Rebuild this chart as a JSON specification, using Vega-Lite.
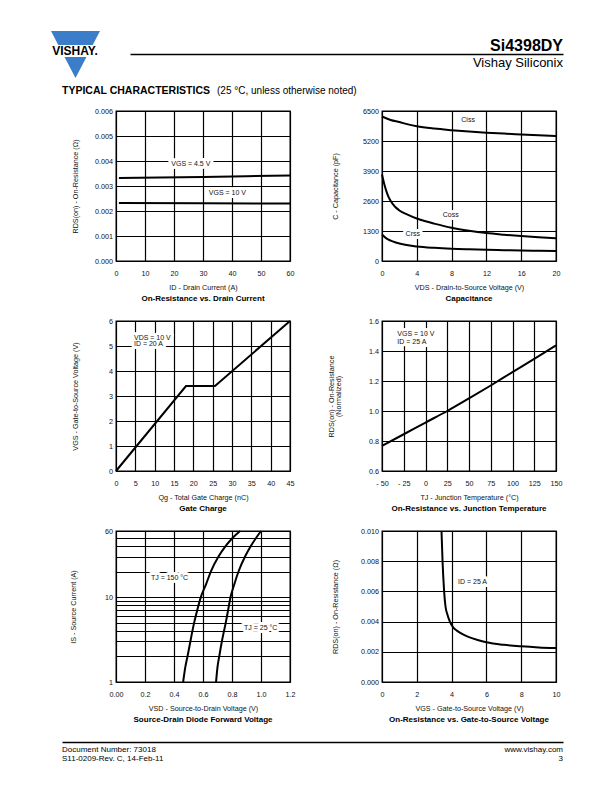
{
  "$schema": "https://vega.github.io/schema/vega-lite/v6.json",
  "background": "white",
  "padding": {"left": 51, "top": 31, "right": 0, "bottom": 0},
  "autosize": {"type": "pad"},
  "spacing": 9,
  "datasets": {
    "hdr": [{"k": 0}],
    "c1": [
      {"s": "a", "x": 1, "y": 0.00332}, {"s": "a", "x": 15, "y": 0.00334}, {"s": "a", "x": 30, "y": 0.00336}, {"s": "a", "x": 45, "y": 0.00339}, {"s": "a", "x": 60, "y": 0.00342},
      {"s": "b", "x": 1, "y": 0.00232}, {"s": "b", "x": 30, "y": 0.00231}, {"s": "b", "x": 60, "y": 0.0023}
    ],
    "c1l": [{"x": 25.8, "y": 0.00389, "t": "VGS = 4.5 V"}, {"x": 38.4, "y": 0.00272, "t": "VGS = 10 V"}],
    "c2": [
      {"s": "iss", "x": 0, "y": 6260}, {"s": "iss", "x": 1, "y": 6110}, {"s": "iss", "x": 2, "y": 6020}, {"s": "iss", "x": 3, "y": 5920}, {"s": "iss", "x": 4, "y": 5840}, {"s": "iss", "x": 6, "y": 5740}, {"s": "iss", "x": 8, "y": 5670}, {"s": "iss", "x": 10, "y": 5610}, {"s": "iss", "x": 12, "y": 5560}, {"s": "iss", "x": 14, "y": 5520}, {"s": "iss", "x": 16, "y": 5485}, {"s": "iss", "x": 18, "y": 5450}, {"s": "iss", "x": 20, "y": 5410},
      {"s": "oss", "x": 0, "y": 3750}, {"s": "oss", "x": 0.25, "y": 3350}, {"s": "oss", "x": 0.5, "y": 3030}, {"s": "oss", "x": 0.75, "y": 2780}, {"s": "oss", "x": 1, "y": 2600}, {"s": "oss", "x": 1.5, "y": 2350}, {"s": "oss", "x": 2, "y": 2190}, {"s": "oss", "x": 3, "y": 2000}, {"s": "oss", "x": 4, "y": 1840}, {"s": "oss", "x": 5, "y": 1720}, {"s": "oss", "x": 6, "y": 1620}, {"s": "oss", "x": 8, "y": 1440}, {"s": "oss", "x": 10, "y": 1310}, {"s": "oss", "x": 12, "y": 1210}, {"s": "oss", "x": 14, "y": 1140}, {"s": "oss", "x": 16, "y": 1080}, {"s": "oss", "x": 18, "y": 1030}, {"s": "oss", "x": 20, "y": 990},
      {"s": "rss", "x": 0, "y": 1150}, {"s": "rss", "x": 0.5, "y": 980}, {"s": "rss", "x": 1, "y": 880}, {"s": "rss", "x": 1.5, "y": 810}, {"s": "rss", "x": 2, "y": 760}, {"s": "rss", "x": 3, "y": 680}, {"s": "rss", "x": 4, "y": 630}, {"s": "rss", "x": 6, "y": 570}, {"s": "rss", "x": 8, "y": 530}, {"s": "rss", "x": 10, "y": 505}, {"s": "rss", "x": 12, "y": 485}, {"s": "rss", "x": 14, "y": 470}, {"s": "rss", "x": 16, "y": 455}, {"s": "rss", "x": 18, "y": 445}, {"s": "rss", "x": 20, "y": 435}
    ],
    "c2l": [{"x": 9.9, "y": 6110, "t": "Ciss"}, {"x": 7.9, "y": 1993, "t": "Coss"}, {"x": 3.54, "y": 1170, "t": "Crss"}],
    "c3": [{"x": 0, "y": 0}, {"x": 18.1, "y": 3.4}, {"x": 25.6, "y": 3.4}, {"x": 45, "y": 6}],
    "c3l": [{"x": 4.65, "y": 5.31, "t": "VDS = 10 V"}, {"x": 4.65, "y": 5.07, "t": "ID = 20 A"}],
    "c4": [{"x": -50, "y": 0.768}, {"x": -25, "y": 0.845}, {"x": 0, "y": 0.923}, {"x": 25, "y": 1.0}, {"x": 50, "y": 1.084}, {"x": 75, "y": 1.17}, {"x": 100, "y": 1.259}, {"x": 125, "y": 1.347}, {"x": 150, "y": 1.438}],
    "c4l": [{"x": -32.4, "y": 1.513, "t": "VGS = 10 V"}, {"x": -32.4, "y": 1.46, "t": "ID = 25 A"}],
    "c5": [
      {"s": "150", "x": 0.463, "y": 1}, {"s": "150", "x": 0.478, "y": 1.5}, {"s": "150", "x": 0.493, "y": 2}, {"s": "150", "x": 0.513, "y": 3}, {"s": "150", "x": 0.527, "y": 4}, {"s": "150", "x": 0.539, "y": 5}, {"s": "150", "x": 0.56, "y": 7}, {"s": "150", "x": 0.585, "y": 10}, {"s": "150", "x": 0.62, "y": 14}, {"s": "150", "x": 0.654, "y": 20}, {"s": "150", "x": 0.707, "y": 30}, {"s": "150", "x": 0.757, "y": 40}, {"s": "150", "x": 0.805, "y": 50}, {"s": "150", "x": 0.856, "y": 60},
      {"s": "25", "x": 0.69, "y": 1}, {"s": "25", "x": 0.70, "y": 1.5}, {"s": "25", "x": 0.712, "y": 2}, {"s": "25", "x": 0.73, "y": 3}, {"s": "25", "x": 0.745, "y": 4}, {"s": "25", "x": 0.757, "y": 5}, {"s": "25", "x": 0.773, "y": 7}, {"s": "25", "x": 0.79, "y": 10}, {"s": "25", "x": 0.815, "y": 14}, {"s": "25", "x": 0.845, "y": 20}, {"s": "25", "x": 0.89, "y": 30}, {"s": "25", "x": 0.93, "y": 40}, {"s": "25", "x": 0.967, "y": 50}, {"s": "25", "x": 1.0, "y": 60}
    ],
    "c5l": [{"x": 0.241, "y": 16.7, "t": "TJ = 150 °C"}, {"x": 0.883, "y": 4.34, "t": "TJ = 25 °C"}],
    "c6": [{"x": 3.42, "y": 0.0100}, {"x": 3.45, "y": 0.0090}, {"x": 3.48, "y": 0.0080}, {"x": 3.52, "y": 0.0070}, {"x": 3.57, "y": 0.0060}, {"x": 3.65, "y": 0.0050}, {"x": 3.75, "y": 0.0045}, {"x": 3.9, "y": 0.0040}, {"x": 4.1, "y": 0.0036}, {"x": 4.3, "y": 0.0034}, {"x": 4.6, "y": 0.00318}, {"x": 5, "y": 0.00297}, {"x": 5.5, "y": 0.00278}, {"x": 6, "y": 0.00263}, {"x": 7, "y": 0.00246}, {"x": 8, "y": 0.00236}, {"x": 9, "y": 0.00229}, {"x": 10, "y": 0.00225}],
    "c6l": [{"x": 4.37, "y": 0.00664, "t": "ID = 25 A"}]
  },
  "vconcat": [
    {
      "width": 447, "height": 1,
      "view": {"stroke": null},
      "data": {"name": "hdr"},
      "layer": [
        {"mark": {"type": "point", "opacity": 0}, "encoding": {"x": {"field": "k", "type": "quantitative", "scale": {"domain": [0, 1], "range": [14, 447]}, "axis": {"orient": "bottom", "domain": true, "domainColor": "#000", "domainWidth": 1.6, "ticks": false, "labels": false, "grid": false, "title": null}}}},
        {"mark": {"type": "point", "shape": "M-1,-1L1,-1L0.703,-0.43L-0.703,-0.43Z M-0.448,0.06L0.448,0.06L0,0.92Z", "size": 2401, "filled": true, "fill": "#3b7dc8", "strokeWidth": 0, "opacity": 1, "xOffset": -264, "yOffset": 2}, "encoding": {}},
        {"mark": {"type": "text", "text": "VISHAY.", "font": "Liberation Sans", "fontSize": 12, "fontWeight": "bold", "fill": "#000", "align": "center", "baseline": "middle", "dx": -264.5, "dy": -2.5}, "encoding": {}},
        {"mark": {"type": "text", "text": "Si4398DY", "font": "Liberation Sans", "fontSize": 16, "fontWeight": "bold", "fill": "#000", "align": "right", "baseline": "alphabetic", "dx": 223.5, "dy": -3}, "encoding": {}},
        {"mark": {"type": "text", "text": "Vishay Siliconix", "font": "Liberation Sans", "fontSize": 13, "fontWeight": "normal", "fill": "#000", "align": "right", "baseline": "alphabetic", "dx": 223.5, "dy": 13.5}, "encoding": {}},
        {"mark": {"type": "text", "text": "TYPICAL CHARACTERISTICS", "font": "Liberation Sans", "fontSize": 10.5, "fontWeight": "bold", "fill": "#000", "align": "left", "baseline": "alphabetic", "dx": -277.5, "dy": 40.5}, "encoding": {}},
        {"mark": {"type": "text", "text": "(25 °C, unless otherwise noted)", "font": "Liberation Sans", "fontSize": 10, "fontWeight": "normal", "fill": "#000", "align": "left", "baseline": "alphabetic", "dx": -122.5, "dy": 40.5}, "encoding": {}}
      ]
    },
    {
      "columns": 2,
      "bounds": "flush",
      "align": "each",
      "spacing": {"row": 60, "column": 92},
      "concat": [
        {
          "width": 174, "height": 150,
          "title": "On-Resistance vs. Drain Current",
          "encoding": {
            "x": {"field": "x", "type": "quantitative", "scale": {"domain": [0, 60], "nice": false, "zero": false}, "axis": {"values": [0, 10, 20, 30, 40, 50, 60], "title": "ID - Drain Current (A)"}},
            "y": {"field": "y", "type": "quantitative", "scale": {"domain": [0, 0.006], "nice": false, "zero": false}, "axis": {"values": [0, 0.001, 0.002, 0.003, 0.004, 0.005, 0.006], "format": ".3f", "title": "RDS(on) - On-Resistance (Ω)", "titlePadding": 15}}
          },
          "layer": [
            {"data": {"name": "c1l"}, "mark": {"type": "text", "fill": "white", "stroke": "white", "strokeWidth": 6, "strokeJoin": "round", "align": "center"}, "encoding": {"text": {"field": "t"}}},
            {"data": {"name": "c1"}, "mark": {"type": "line"}, "encoding": {"detail": {"field": "s"}}},
            {"data": {"name": "c1l"}, "mark": {"type": "text", "align": "center"}, "encoding": {"text": {"field": "t"}}}
          ]
        },
        {
          "width": 174, "height": 150,
          "title": "Capacitance",
          "encoding": {
            "x": {"field": "x", "type": "quantitative", "scale": {"domain": [0, 20], "nice": false, "zero": false}, "axis": {"values": [0, 4, 8, 12, 16, 20], "title": "VDS - Drain-to-Source Voltage (V)"}},
            "y": {"field": "y", "type": "quantitative", "scale": {"domain": [0, 6500], "nice": false, "zero": false}, "axis": {"values": [0, 1300, 2600, 3900, 5200, 6500], "format": "d", "title": "C - Capacitance (pF)", "titlePadding": 23}}
          },
          "layer": [
            {"data": {"name": "c2l"}, "mark": {"type": "text", "fill": "white", "stroke": "white", "strokeWidth": 6, "strokeJoin": "round", "align": "center"}, "encoding": {"text": {"field": "t"}}},
            {"data": {"name": "c2"}, "mark": {"type": "line", "interpolate": "monotone"}, "encoding": {"detail": {"field": "s"}}},
            {"data": {"name": "c2l"}, "mark": {"type": "text", "align": "center"}, "encoding": {"text": {"field": "t"}}}
          ]
        },
        {
          "width": 174, "height": 150,
          "title": "Gate Charge",
          "encoding": {
            "x": {"field": "x", "type": "quantitative", "scale": {"domain": [0, 45], "nice": false, "zero": false}, "axis": {"values": [0, 5, 10, 15, 20, 25, 30, 35, 40, 45], "title": "Qg - Total Gate Charge (nC)"}},
            "y": {"field": "y", "type": "quantitative", "scale": {"domain": [0, 6], "nice": false, "zero": false}, "axis": {"values": [0, 1, 2, 3, 4, 5, 6], "format": "d", "title": "VGS - Gate-to-Source Voltage (V)", "titlePadding": 29}}
          },
          "layer": [
            {"data": {"name": "c3l"}, "mark": {"type": "text", "fill": "white", "stroke": "white", "strokeWidth": 6, "strokeJoin": "round", "align": "left"}, "encoding": {"text": {"field": "t"}}},
            {"data": {"name": "c3"}, "mark": {"type": "line"}, "encoding": {}},
            {"data": {"name": "c3l"}, "mark": {"type": "text", "align": "left"}, "encoding": {"text": {"field": "t"}}}
          ]
        },
        {
          "width": 174, "height": 150,
          "title": "On-Resistance vs. Junction Temperature",
          "encoding": {
            "x": {"field": "x", "type": "quantitative", "scale": {"domain": [-50, 150], "nice": false, "zero": false}, "axis": {"values": [-50, -25, 0, 25, 50, 75, 100, 125, 150], "labelExpr": "datum.value < 0 ? '- ' + format(-datum.value, 'd') : format(datum.value, 'd')", "title": "TJ - Junction Temperature (°C)"}},
            "y": {"field": "y", "type": "quantitative", "scale": {"domain": [0.6, 1.6], "nice": false, "zero": false}, "axis": {"values": [0.6, 0.8, 1.0, 1.2, 1.4, 1.6], "format": ".1f", "title": ["RDS(on) - On-Resistance", "(Normalized)"], "titleLineHeight": 7.5, "titlePadding": 25.8}}
          },
          "layer": [
            {"data": {"name": "c4l"}, "mark": {"type": "text", "fill": "white", "stroke": "white", "strokeWidth": 6, "strokeJoin": "round", "align": "left"}, "encoding": {"text": {"field": "t"}}},
            {"data": {"name": "c4"}, "mark": {"type": "line", "interpolate": "monotone"}, "encoding": {}},
            {"data": {"name": "c4l"}, "mark": {"type": "text", "align": "left"}, "encoding": {"text": {"field": "t"}}}
          ]
        },
        {
          "width": 174, "height": 151,
          "title": "Source-Drain Diode Forward Voltage",
          "encoding": {
            "x": {"field": "x", "type": "quantitative", "scale": {"domain": [0, 1.2], "nice": false, "zero": false}, "axis": {"values": [0, 0.2, 0.4, 0.6, 0.8, 1.0, 1.2], "labelExpr": "datum.value == 0 ? '0.00' : format(datum.value, '.1f')", "title": "VSD - Source-to-Drain Voltage (V)"}},
            "y": {"field": "y", "type": "quantitative", "scale": {"type": "log", "domain": [1, 60], "nice": false}, "axis": {"values": [1, 2, 3, 4, 5, 6, 7, 8, 9, 10, 20, 30, 40, 50, 60], "format": "d", "labelExpr": "(datum.value == 1 || datum.value == 10 || datum.value == 60) ? datum.label : ''", "title": "IS - Source Current (A)", "titlePadding": 27}}
          },
          "layer": [
            {"data": {"name": "c5l"}, "mark": {"type": "text", "fill": "white", "stroke": "white", "strokeWidth": 6, "strokeJoin": "round", "align": "left"}, "encoding": {"text": {"field": "t"}}},
            {"data": {"name": "c5"}, "mark": {"type": "line", "interpolate": "monotone"}, "encoding": {"detail": {"field": "s"}}},
            {"data": {"name": "c5l"}, "mark": {"type": "text", "align": "left"}, "encoding": {"text": {"field": "t"}}}
          ]
        },
        {
          "width": 174, "height": 151,
          "title": "On-Resistance vs. Gate-to-Source Voltage",
          "encoding": {
            "x": {"field": "x", "type": "quantitative", "scale": {"domain": [0, 10], "nice": false, "zero": false}, "axis": {"values": [0, 2, 4, 6, 8, 10], "title": "VGS - Gate-to-Source Voltage (V)"}},
            "y": {"field": "y", "type": "quantitative", "scale": {"domain": [0, 0.01], "nice": false, "zero": false}, "axis": {"values": [0, 0.002, 0.004, 0.006, 0.008, 0.01], "format": ".3f", "title": "RDS(on) - On-Resistance (Ω)", "titlePadding": 21.3}}
          },
          "layer": [
            {"data": {"name": "c6l"}, "mark": {"type": "text", "fill": "white", "stroke": "white", "strokeWidth": 6, "strokeJoin": "round", "align": "left"}, "encoding": {"text": {"field": "t"}}},
            {"data": {"name": "c6"}, "mark": {"type": "line", "interpolate": "monotone"}, "encoding": {}},
            {"data": {"name": "c6l"}, "mark": {"type": "text", "align": "left"}, "encoding": {"text": {"field": "t"}}}
          ]
        }
      ]
    },
    {
      "width": 447, "height": 7,
      "view": {"stroke": null},
      "data": {"name": "hdr"},
      "layer": [
        {"mark": {"type": "point", "opacity": 0}, "encoding": {"x": {"field": "k", "type": "quantitative", "scale": {"domain": [0, 1], "range": [-54, 447]}, "axis": {"orient": "bottom", "domain": true, "domainColor": "#000", "domainWidth": 1.3, "ticks": false, "labels": false, "grid": false, "title": null}}}},
        {"mark": {"type": "text", "text": "Document Number: 73018", "font": "Liberation Sans", "fontSize": 8, "fill": "#000", "align": "left", "baseline": "alphabetic", "dx": -277.5, "dy": 13}, "encoding": {}},
        {"mark": {"type": "text", "text": "S11-0209-Rev. C, 14-Feb-11", "font": "Liberation Sans", "fontSize": 8, "fill": "#000", "align": "left", "baseline": "alphabetic", "dx": -277.5, "dy": 22}, "encoding": {}},
        {"mark": {"type": "text", "text": "www.vishay.com", "font": "Liberation Sans", "fontSize": 8, "fill": "#000", "align": "right", "baseline": "alphabetic", "dx": 223.5, "dy": 13}, "encoding": {}},
        {"mark": {"type": "text", "text": "3", "font": "Liberation Sans", "fontSize": 8, "fill": "#000", "align": "right", "baseline": "alphabetic", "dx": 223.5, "dy": 22}, "encoding": {}}
      ]
    }
  ],
  "config": {
    "font": "Liberation Sans",
    "view": {"stroke": "#000", "strokeWidth": 1.3},
    "axis": {"grid": true, "gridColor": "#000", "gridOpacity": 1, "gridWidth": 1.2, "domain": false, "ticks": false, "tickSize": 0, "labelFont": "Liberation Sans", "labelFontSize": 7.2, "labelColor": "#111", "labelFlush": false, "labelOverlap": false, "labelBound": false, "titleFont": "Liberation Sans", "titleFontSize": 7.2, "titleFontWeight": "normal", "titleColor": "#111"},
    "axisX": {"labelPadding": 8, "titlePadding": 7},
    "axisY": {"labelPadding": 3.5},
    "title": {"font": "Liberation Sans", "fontSize": 8, "fontWeight": "bold", "color": "#000", "orient": "bottom", "offset": 5, "anchor": "middle"},
    "line": {"color": "#000", "strokeWidth": 2},
    "text": {"font": "Liberation Sans", "fontSize": 7, "color": "#111"}
  }
}
